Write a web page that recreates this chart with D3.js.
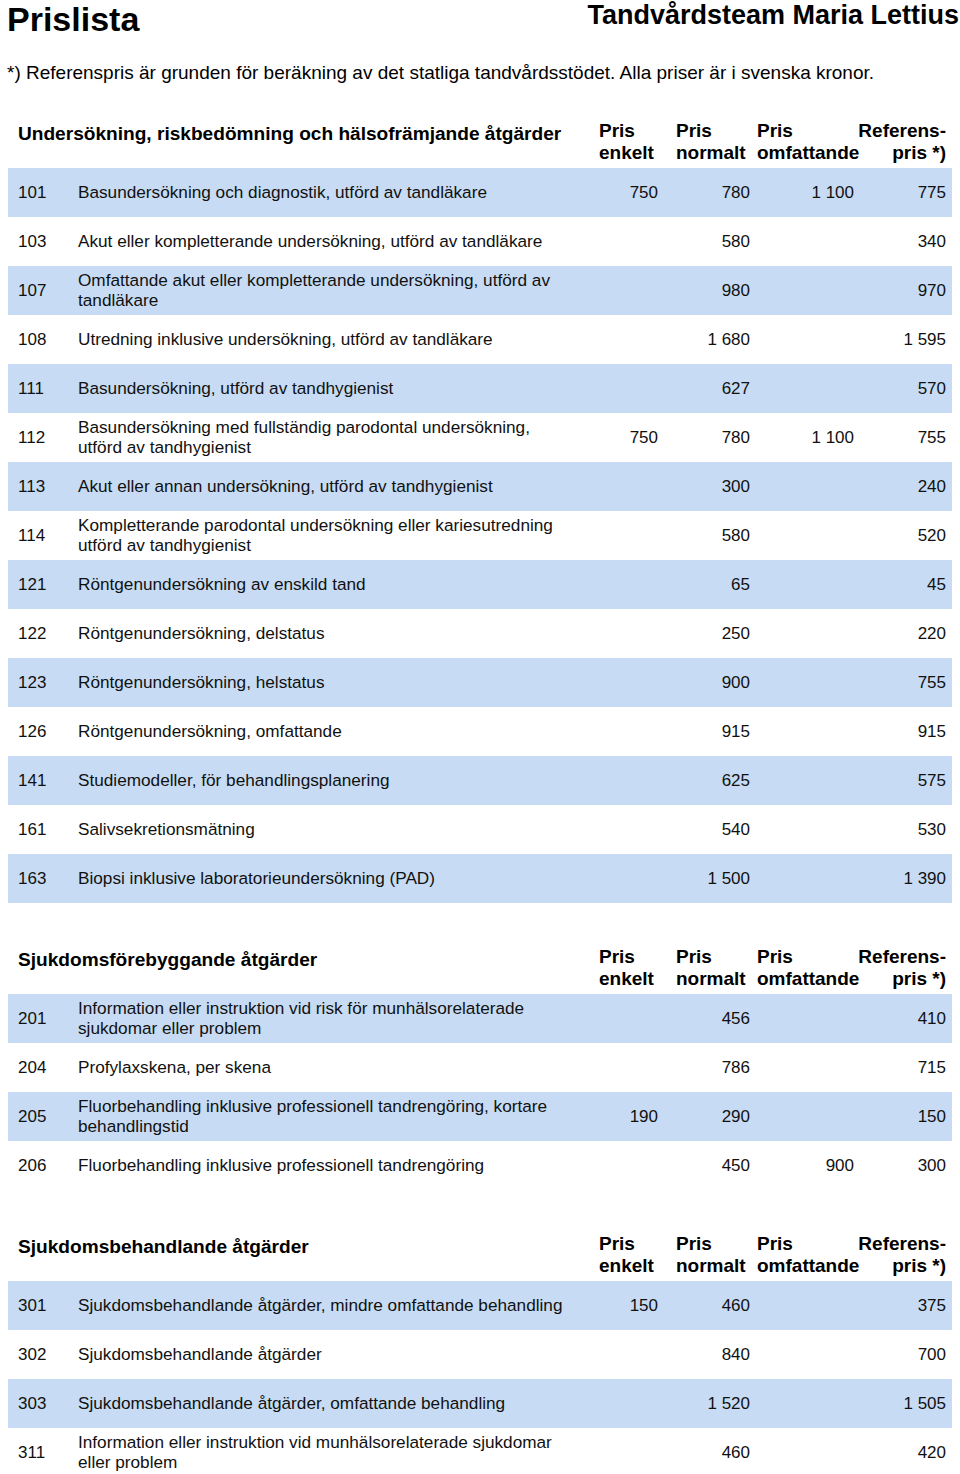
<!DOCTYPE html>
<html>
<head>
<meta charset="utf-8">
<script src="https://cdn.jsdelivr.net/npm/d3@7"></script>
<style>
  body { margin: 0; background: #fff; }
  svg { display: block; font-family: "Liberation Sans", Arial, sans-serif; }
</style>
</head>
<body>
<div class="canva"></div>
<script>
// sections of the price list
var sectionTitles = [
  'Undersökning, riskbedömning och hälsofrämjande åtgärder',
  'Sjukdomsförebyggande åtgärder',
  'Sjukdomsbehandlande åtgärder'
];
var colHeads = [['Pris', 'enkelt'], ['Pris', 'normalt'], ['Pris', 'omfattande'], ['Referens-', 'pris *)']];

// one entry per row
var rowSection = [0,0,0,0,0,0,0,0,0,0,0,0,0,0,0, 1,1,1,1, 2,2,2,2];
var codes = ['101','103','107','108','111','112','113','114','121','122','123','126','141','161','163',
  '201','204','205','206',
  '301','302','303','311'];
var descriptions = [
  'Basundersökning och diagnostik, utförd av tandläkare',
  'Akut eller kompletterande undersökning, utförd av tandläkare',
  'Omfattande akut eller kompletterande undersökning, utförd av\ntandläkare',
  'Utredning inklusive undersökning, utförd av tandläkare',
  'Basundersökning, utförd av tandhygienist',
  'Basundersökning med fullständig parodontal undersökning,\nutförd av tandhygienist',
  'Akut eller annan undersökning, utförd av tandhygienist',
  'Kompletterande parodontal undersökning eller kariesutredning\nutförd av tandhygienist',
  'Röntgenundersökning av enskild tand',
  'Röntgenundersökning, delstatus',
  'Röntgenundersökning, helstatus',
  'Röntgenundersökning, omfattande',
  'Studiemodeller, för behandlingsplanering',
  'Salivsekretionsmätning',
  'Biopsi inklusive laboratorieundersökning (PAD)',
  'Information eller instruktion vid risk för munhälsorelaterade\nsjukdomar eller problem',
  'Profylaxskena, per skena',
  'Fluorbehandling inklusive professionell tandrengöring, kortare\nbehandlingstid',
  'Fluorbehandling inklusive professionell tandrengöring',
  'Sjukdomsbehandlande åtgärder, mindre omfattande behandling',
  'Sjukdomsbehandlande åtgärder',
  'Sjukdomsbehandlande åtgärder, omfattande behandling',
  'Information eller instruktion vid munhälsorelaterade sjukdomar\neller problem'
];
var prisEnkelt =     [750, null, null, null, null, 750, null, null, null, null, null, null, null, null, null,
  null, null, 190, null,  150, null, null, null];
var prisNormalt =    [780, 580, 980, 1680, 627, 780, 300, 580, 65, 250, 900, 915, 625, 540, 1500,
  456, 786, 290, 450,  460, 840, 1520, 460];
var prisOmfattande = [1100, null, null, null, null, 1100, null, null, null, null, null, null, null, null, null,
  null, null, null, 900,  null, null, null, null];
var referenspris =   [775, 340, 970, 1595, 570, 755, 240, 520, 45, 220, 755, 915, 575, 530, 1390,
  410, 715, 150, 300,  375, 700, 1505, 420];

var width = 960, height = 1474;
var rowH = 49;
var sectionStart = [168, 994, 1281];
var bandColor = '#c7dcf4';

var svg = d3.select('.canva').append('svg')
  .attr('width', width)
  .attr('height', height);

// swedish thousands: "1 100"
var fmt = d3.formatLocale({decimal: ',', thousands: '\u00a0', grouping: [3], currency: ['', ' kr']}).format(',d');

// value columns: right edge of each
var valueCols = ['enkelt', 'normalt', 'omfattande', 'referens'];
var colRight = d3.scaleOrdinal().domain(valueCols).range([658, 750, 854, 946]);
var headLeft = d3.scaleOrdinal().domain(valueCols).range([599, 676, 757, 946]);
var colValues = [prisEnkelt, prisNormalt, prisOmfattande, referenspris];

// header
svg.append('text').attr('x', 7).attr('y', 31)
  .attr('font-size', 34).attr('font-weight', 'bold').text('Prislista');
svg.append('text').attr('x', 959).attr('y', 24).attr('text-anchor', 'end')
  .attr('font-size', 27).attr('font-weight', 'bold').text('Tandvårdsteam Maria Lettius');
svg.append('text').attr('x', 7).attr('y', 79)
  .attr('font-size', 19).text('*) Referenspris är grunden för beräkning av det statliga tandvårdsstödet. Alla priser är i svenska kronor.');

sectionTitles.forEach(function (title, s) {
  var idx = d3.range(codes.length).filter(function (i) { return rowSection[i] === s; });
  var top = sectionStart[s];
  var y = d3.scaleBand()
    .domain(idx)
    .range([top, top + idx.length * rowH])
    .paddingInner(0);

  var g = svg.append('g');

  g.append('text').attr('x', 18).attr('y', top - 28)
    .attr('font-size', 19.1).attr('font-weight', 'bold').text(title);

  colHeads.forEach(function (lines, c) {
    var last = c === colHeads.length - 1;
    var t = g.append('text')
      .attr('font-size', 19).attr('font-weight', 'bold')
      .attr('text-anchor', last ? 'end' : 'start');
    lines.forEach(function (l, k) {
      t.append('tspan').attr('x', headLeft(valueCols[c]))
        .attr('y', top - 31 + k * 22).text(l);
    });
  });

  var rows = g.selectAll('g.row')
    .data(idx)
    .enter().append('g').attr('class', 'row');

  rows.append('rect')
    .attr('x', 8)
    .attr('width', 944)
    .attr('y', function (d) { return y(d); })
    .attr('height', y.bandwidth())
    .attr('fill', function (d, i) { return i % 2 === 0 ? bandColor : 'none'; });

  var mid = function (d) { return y(d) + y.bandwidth() / 2 + 5.5; };

  rows.append('text')
    .attr('x', 18).attr('y', mid)
    .attr('font-size', 17).attr('fill', '#111')
    .text(function (d) { return codes[d]; });

  rows.append('text')
    .attr('font-size', 17.2).attr('fill', '#111')
    .each(function (d) {
      var lines = descriptions[d].split('\n');
      var t = d3.select(this);
      lines.forEach(function (l, k) {
        t.append('tspan').attr('x', 78)
          .attr('y', mid(d) + (k - (lines.length - 1) / 2) * 20)
          .text(l);
      });
    });

  valueCols.forEach(function (col, c) {
    rows.filter(function (d) { return colValues[c][d] != null; })
      .append('text')
      .attr('x', colRight(col)).attr('y', mid)
      .attr('text-anchor', 'end')
      .attr('font-size', 17).attr('fill', '#111')
      .text(function (d) { return fmt(colValues[c][d]); });
  });
});
</script>
</body>
</html>
